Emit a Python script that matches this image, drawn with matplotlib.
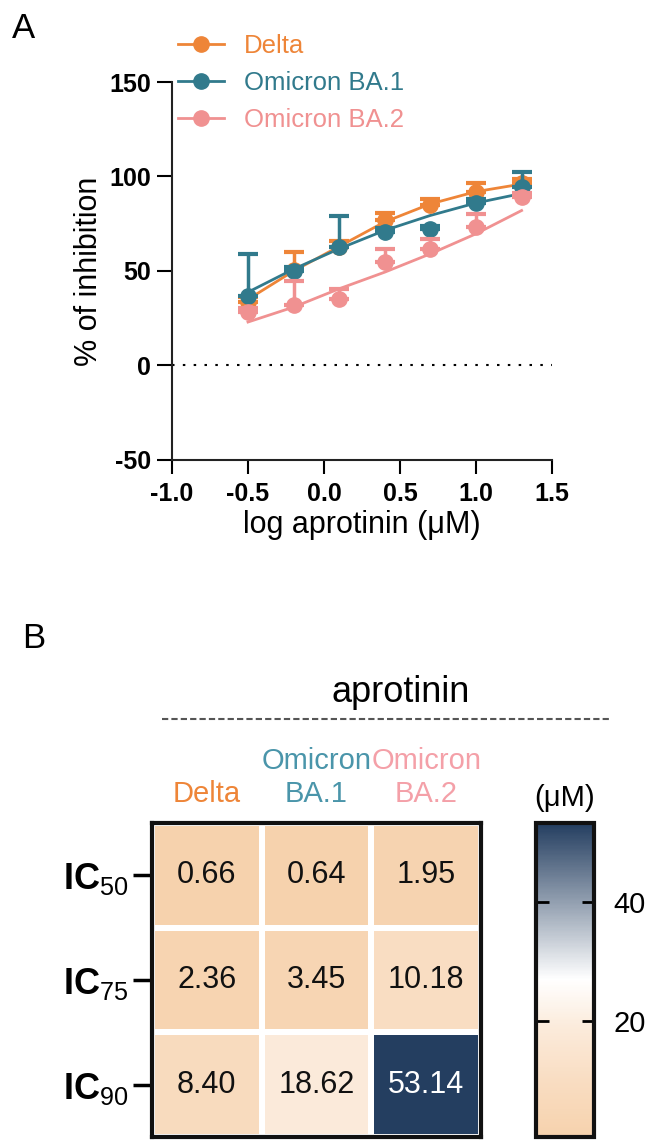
import numpy as np
import matplotlib
matplotlib.use('Agg')
import matplotlib.pyplot as plt
from matplotlib.colors import LinearSegmentedColormap
from matplotlib.lines import Line2D

plt.rcParams['font.family'] = ['Liberation Sans', 'DejaVu Sans']
plt.rcParams['mathtext.fontset'] = 'custom'
plt.rcParams['mathtext.rm'] = 'Liberation Sans'
plt.rcParams['mathtext.bf'] = 'Liberation Sans:bold'
plt.rcParams['axes.unicode_minus'] = False

# panel A data
log_conc = [-0.5, -0.2, 0.1, 0.4, 0.7, 1.0, 1.3]
delta_mean = [33.5, 50.7, 62.7, 76.8, 85.1, 91.8, 96.6]
delta_err = [3, 9.5, 3, 4, 3, 5, 2]
ba1_mean = [37, 50, 62.5, 70.6, 72, 86, 94.4]
ba1_err = [22, 2, 16.5, 2, 2, 2, 8]
ba2_mean = [28.2, 31.8, 35.3, 54.7, 61.8, 73.3, 89.1]
ba2_err = [2, 13, 5.3, 6.7, 5, 7, 2]
# fitted curves
delta_fit = [35, 50, 63, 76, 85.5, 92, 96]
ba1_fit = [38.8, 51, 61.8, 71.5, 79.4, 86, 91]
ba2_fit = [23, 30.9, 40.6, 49.4, 59.1, 69.7, 82]

variants = ['Delta', 'Omicron BA.1', 'Omicron BA.2']
colors = ['#EE8538', '#317A8C', '#F09191']
label_colors = ['#EE8538', '#4A95AA', '#F4A0A8']

# panel B data
rows = [r'$\mathbf{IC}_{50}$', r'$\mathbf{IC}_{75}$', r'$\mathbf{IC}_{90}$']
cols = ['Delta', 'Omicron\nBA.1', 'Omicron\nBA.2']
ic_values = np.array([[0.66, 0.64, 1.95],
                      [2.36, 3.45, 10.18],
                      [8.40, 18.62, 53.14]])

# colour scale nodes (value, colour)
cmap_values = [0.64, 10, 19, 27, 53.14]
cmap_colors = ['#F6D2AD', '#F9DDC2', '#FBEBDB', '#FFFFFF', '#243E60']

W, H = 650, 1140
fig = plt.figure(figsize=(W / 100, H / 100), dpi=100)


def fx(x):
    return x / W


def fy(y):
    return 1 - y / H


# ---------- panel A ----------
ax = fig.add_axes([fx(172), fy(460), fx(552 - 172), (460 - 82) / H])
means = [delta_mean, ba1_mean, ba2_mean]
errs = [delta_err, ba1_err, ba2_err]
fits = [delta_fit, ba1_fit, ba2_fit]
for i in [2, 1, 0]:
    ax.plot(log_conc, fits[i], color=colors[i], lw=2, zorder=2 + i)
    ax.errorbar(log_conc, means[i], yerr=[np.zeros(7), errs[i]], fmt='o',
                color=colors[i], ms=11, elinewidth=2.5, capsize=7, capthick=3,
                zorder=3 + i)

ax.axhline(0, color='black', lw=1.5, dashes=(1.2, 4), zorder=1)
ax.set_xlim(-1.0, 1.5)
ax.set_ylim(-50, 150)
ax.set_xticks([-1.0, -0.5, 0.0, 0.5, 1.0, 1.5])
ax.set_xticklabels(['-1.0', '-0.5', '0.0', '0.5', '1.0', '1.5'])
ax.set_yticks([-50, 0, 50, 100, 150])
for s in ['top', 'right']:
    ax.spines[s].set_visible(False)
for s in ['left', 'bottom']:
    ax.spines[s].set_linewidth(1.5)
    ax.spines[s].set_color('#222222')
ax.tick_params(axis='y', length=11, width=1.5, pad=4, labelsize=18)
ax.tick_params(axis='x', length=10, width=1.5, pad=6, labelsize=18)
for t in ax.get_xticklabels() + ax.get_yticklabels():
    t.set_fontweight('bold')
ax.set_xlabel('log aprotinin (μM)', fontsize=22, labelpad=3)
ax.set_ylabel('% of inhibition', fontsize=22, labelpad=4)
ax.patch.set_alpha(0)

handles = [Line2D([], [], color=c, lw=2, marker='o', ms=11) for c in colors]
leg = fig.legend(handles, variants, loc='upper left',
                 bbox_to_anchor=(fx(178), fy(34)), frameon=False,
                 fontsize=18.5, handlelength=1.8, handletextpad=0.75,
                 labelspacing=0.5, borderpad=0, borderaxespad=0)
for t, c in zip(leg.get_texts(), colors):
    t.set_color(c)

fig.text(fx(12), fy(38), 'A', fontsize=25, ha='left', va='baseline')

# ---------- panel B ----------
fig.text(fx(22), fy(648), 'B', fontsize=25, ha='left', va='baseline')
fig.text(fx(401), fy(702), 'aprotinin', fontsize=26, ha='center', va='baseline')
fig.add_artist(Line2D([fx(162), fx(612)], [fy(719), fy(719)], color='#555555',
                      lw=1.5, dashes=(3, 1.5)))

vmin, vmax = ic_values.min(), ic_values.max()
nodes = [((v - vmin) / (vmax - vmin), c) for v, c in zip(cmap_values, cmap_colors)]
cmap = LinearSegmentedColormap.from_list('ic', nodes)

hax = fig.add_axes([fx(152), fy(1137), fx(481 - 152), (1137 - 823) / H])
mesh = hax.pcolormesh(ic_values, cmap=cmap, vmin=vmin, vmax=vmax,
                      edgecolors='white', linewidth=3)
hax.set_xlim(0, 3)
hax.set_ylim(3, 0)
for s in hax.spines.values():
    s.set_linewidth(3)
    s.set_color('#111111')
for r in range(3):
    for c in range(3):
        v = ic_values[r, c]
        hax.text(c + 0.5, r + 0.5, f'{v:.2f}', ha='center', va='center',
                 fontsize=22, color='white' if v > 40 else '#111111')
hax.set_yticks([0.5, 1.5, 2.5])
hax.set_yticklabels(rows, fontsize=26)
hax.tick_params(axis='y', length=14, width=2.5, pad=3)
hax.xaxis.tick_top()
hax.set_xticks([0.5, 1.5, 2.5])
hax.set_xticklabels(cols, fontsize=21, linespacing=1.2)
hax.tick_params(axis='x', length=0, pad=11)
for t, c in zip(hax.get_xticklabels(), label_colors):
    t.set_color(c)

cax = fig.add_axes([fx(536), fy(1137), fx(594 - 536), (1137 - 823) / H])
cb = fig.colorbar(mesh, cax=cax, ticks=[20, 40])
cb.outline.set_linewidth(3)
cb.outline.set_color('#111111')
cax.tick_params(direction='in', left=True, right=True, length=9, width=2,
                labelsize=21, pad=14)
cax.set_title('(μM)', fontsize=21, pad=12)

fig.savefig('out.png', dpi=100)
